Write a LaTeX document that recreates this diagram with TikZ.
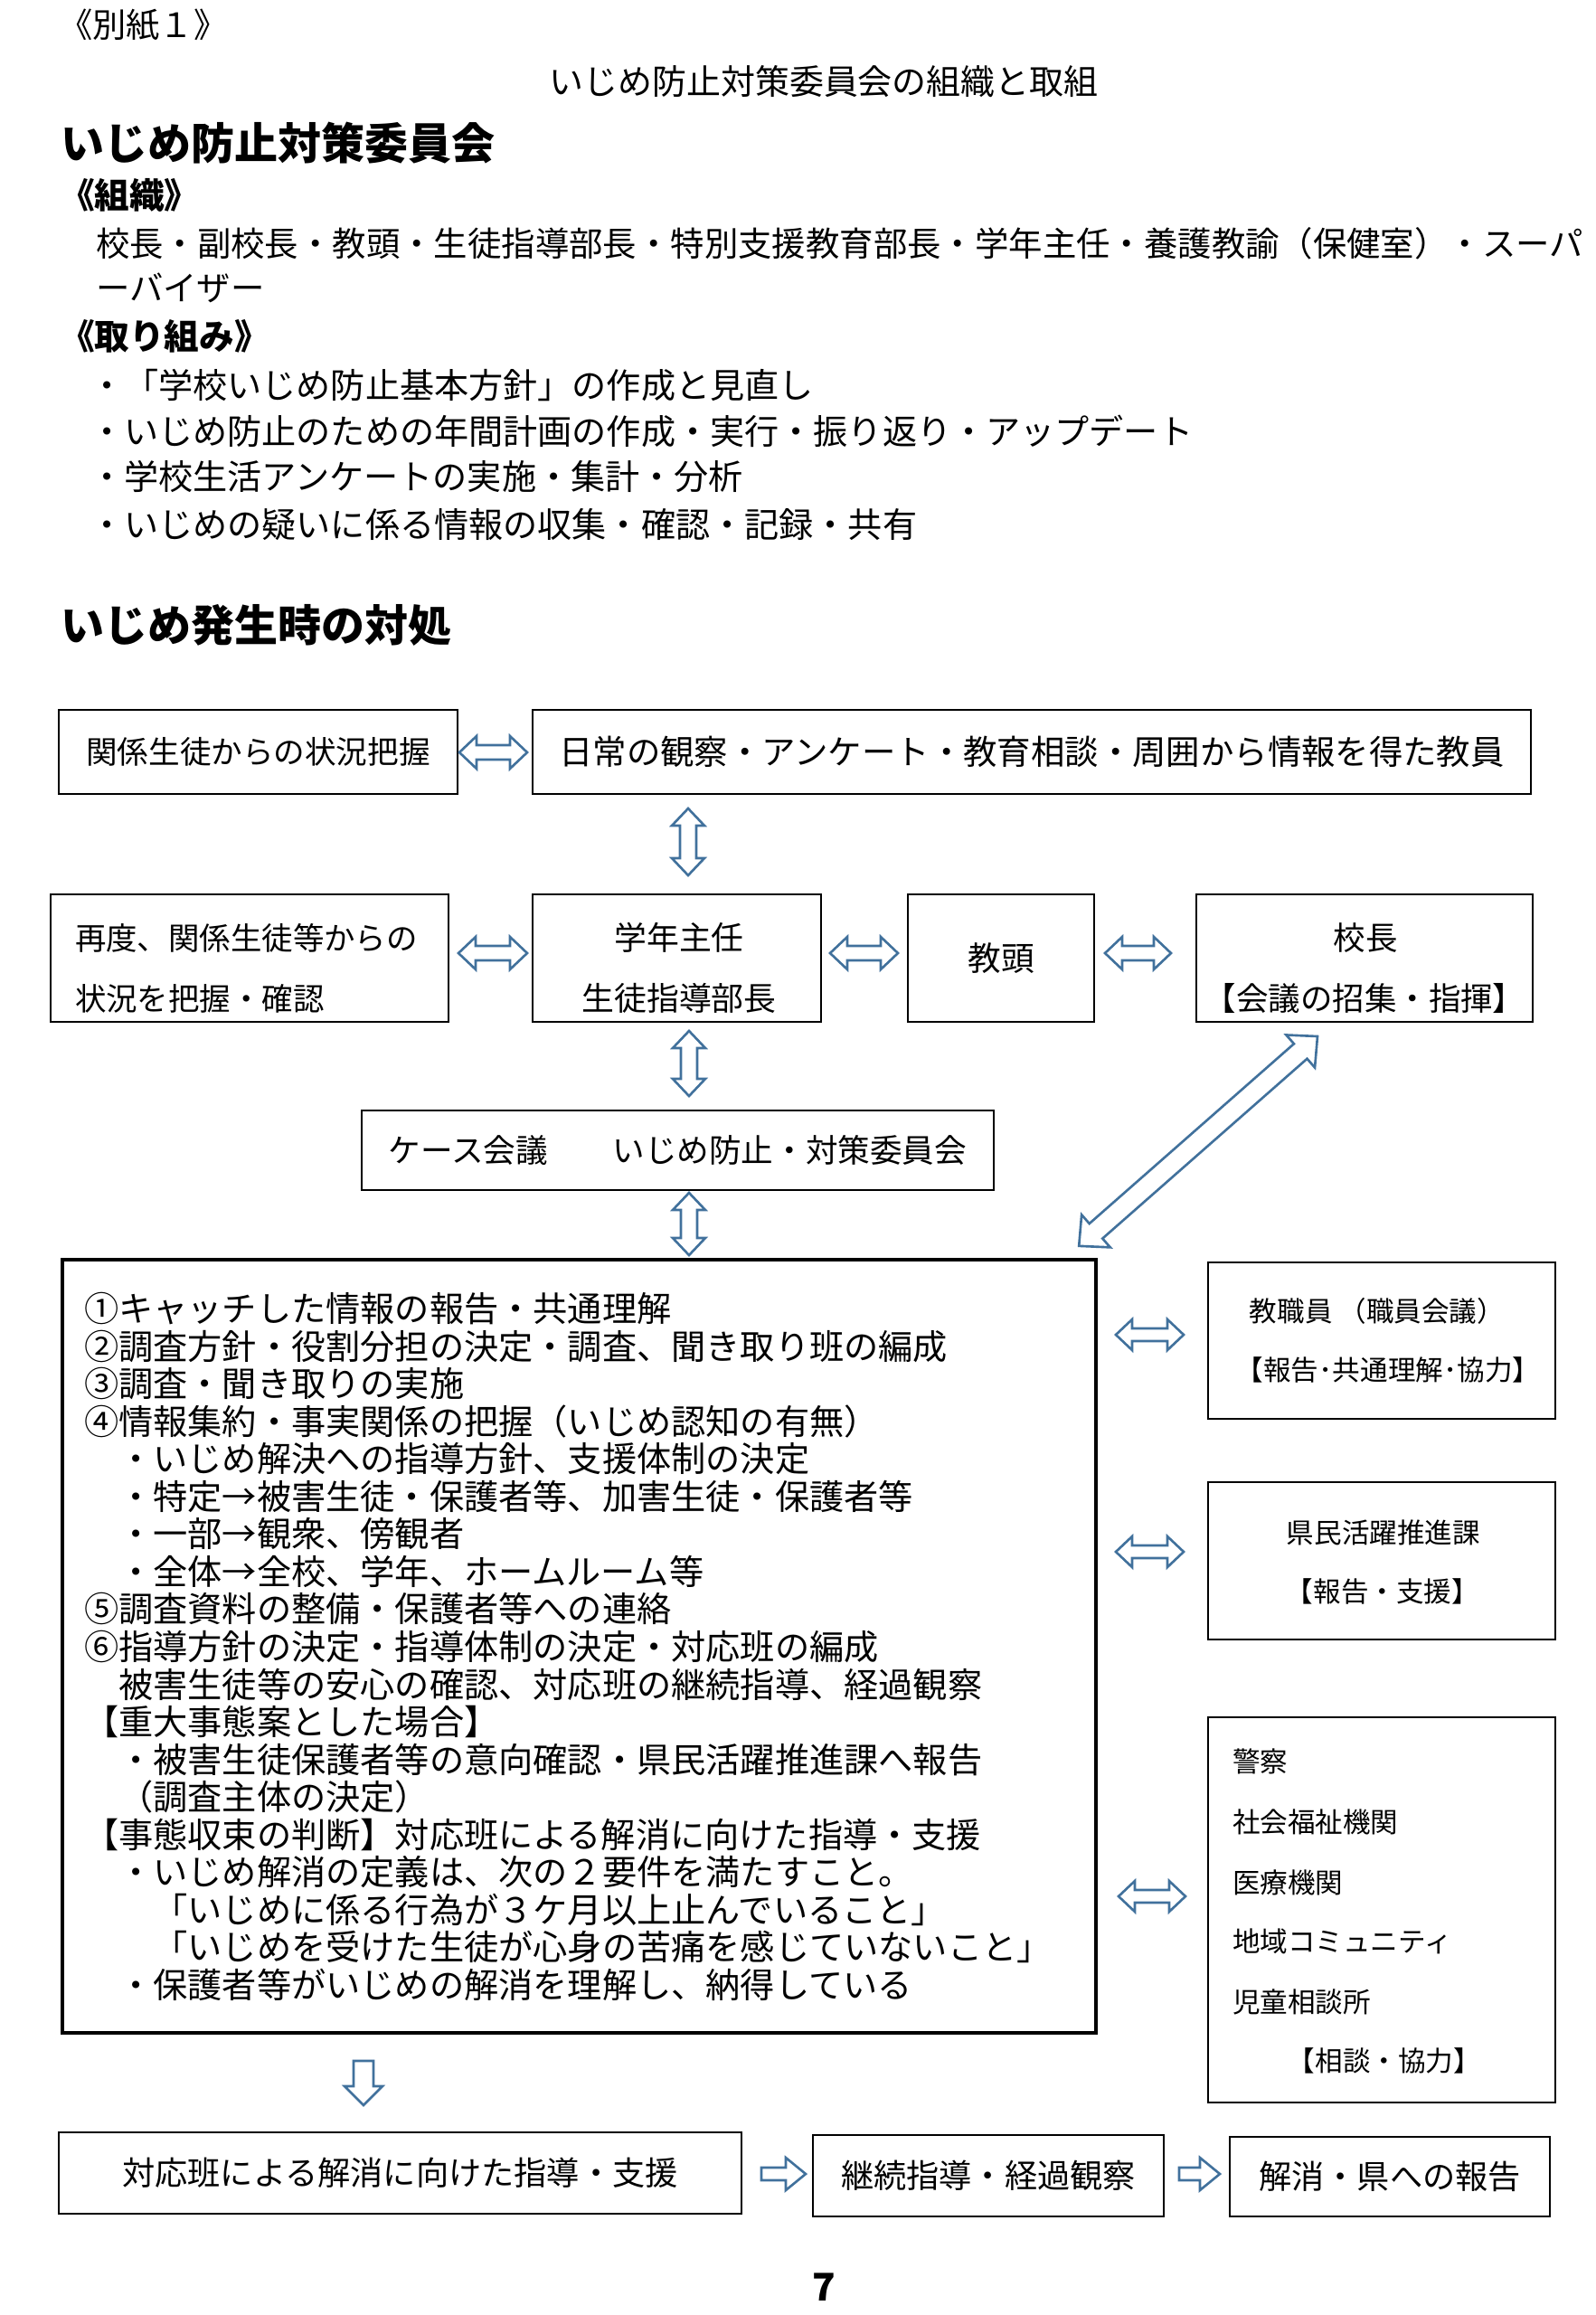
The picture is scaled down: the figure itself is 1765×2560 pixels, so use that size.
\documentclass[tikz,border=0pt]{standalone}
\usepackage{fontspec}
\setmainfont{Noto Sans CJK JP}
\usetikzlibrary{calc}
\definecolor{arrowblue}{RGB}{65,113,156}
\newcommand\fs[1]{\fontsize{#1pt}{#1pt}\selectfont}
% hollow double arrow between two named coordinates; #3 head length, #4 head half width, #5 shaft half width (px)
\newcommand\dblarr[5]{%
  \pgfpointdiff{\pgfpointanchor{#1}{center}}{\pgfpointanchor{#2}{center}}%
  \pgfgetlastxy{\arrdx}{\arrdy}%
  \pgfmathsetmacro\arrlen{veclen(\arrdx,\arrdy)}%
  \pgfmathsetmacro\arrang{atan2(\arrdy,\arrdx)}%
  \pgfmathsetlengthmacro\ahl{#3*0.1mm}%
  \pgfmathsetlengthmacro\ahw{#4*0.1mm}%
  \pgfmathsetlengthmacro\asw{#5*0.1mm}%
  \pgfmathsetlengthmacro\atip{\arrlen pt}%
  \pgfmathsetlengthmacro\aend{\arrlen pt-#3*0.1mm}%
  \begin{scope}[shift={(#1)}, rotate=\arrang]
    \draw[hollow] (0pt,0pt) -- (\ahl,\ahw) -- (\ahl,\asw) -- (\aend,\asw) -- (\aend,\ahw) -- (\atip,0pt)
      -- (\aend,-\ahw) -- (\aend,-\asw) -- (\ahl,-\asw) -- (\ahl,-\ahw) -- cycle;
  \end{scope}}
\newcommand\sglarr[5]{%
  \pgfpointdiff{\pgfpointanchor{#1}{center}}{\pgfpointanchor{#2}{center}}%
  \pgfgetlastxy{\arrdx}{\arrdy}%
  \pgfmathsetmacro\arrlen{veclen(\arrdx,\arrdy)}%
  \pgfmathsetmacro\arrang{atan2(\arrdy,\arrdx)}%
  \pgfmathsetlengthmacro\ahl{#3*0.1mm}%
  \pgfmathsetlengthmacro\ahw{#4*0.1mm}%
  \pgfmathsetlengthmacro\asw{#5*0.1mm}%
  \pgfmathsetlengthmacro\atip{\arrlen pt}%
  \pgfmathsetlengthmacro\aend{\arrlen pt-#3*0.1mm}%
  \begin{scope}[shift={(#1)}, rotate=\arrang]
    \draw[hollow] (0pt,\asw) -- (\aend,\asw) -- (\aend,\ahw) -- (\atip,0pt)
      -- (\aend,-\ahw) -- (\aend,-\asw) -- (0pt,-\asw) -- cycle;
  \end{scope}}
\begin{document}
\begin{tikzpicture}[x=0.1mm,y=-0.1mm,
  box/.style={draw=black, line width=0.8pt, inner sep=0pt, outer sep=0pt, align=center},
  bigbox/.style={draw=black, line width=1pt, inner sep=0pt, outer sep=0pt},
  sidebox/.style={draw=black, line width=0.65pt, inner sep=0pt, outer sep=0pt},
  txt/.style={inner sep=0pt, outer sep=0pt},
  hollow/.style={draw=arrowblue, line width=0.75pt, fill=white, line join=miter},
  bigtext/.style={txt, anchor=base west, font=\fs{10.87}},
  sidetext/.style={txt, font=\fs{8.7}}]
\fill[white] (0,0) rectangle (1765,2560);
\useasboundingbox (0,0) rectangle (1765,2560);

% ---------- header ----------
\node[txt, anchor=base west, font=\fs{10.6}] (bessi) at (65,41) {《別紙１》};
\node[txt, anchor=base, font=\fs{10.8}] (title) at (911,104) {いじめ防止対策委員会の組織と取組};
\node[txt, anchor=base west, font=\bfseries\fs{13.66}] (h1) at (67,176) {いじめ防止対策委員会};
\node[txt, anchor=base west, font=\bfseries\fs{11}] (h1a) at (66,230) {《組織》};
\node[txt, anchor=base west, font=\fs{10.64}] (org1) at (106,283.6) {校長・副校長・教頭・生徒指導部長・特別支援教育部長・学年主任・養護教諭（保健室）・スーパ};
\node[txt, anchor=base west, font=\fs{10.64}] (org2) at (106,332.6) {ーバイザー};
\node[txt, anchor=base west, font=\bfseries\fs{11}] (h1b) at (66,386) {《取り組み》};
\node[txt, anchor=base west, font=\fs{10.85}] (p1) at (99,440.6) {・「学校いじめ防止基本方針」の作成と見直し};
\node[txt, anchor=base west, font=\fs{10.85}] (p2) at (99,491.2) {・いじめ防止のための年間計画の作成・実行・振り返り・アップデート};
\node[txt, anchor=base west, font=\fs{10.85}] (p3) at (99,541.8) {・学校生活アンケートの実施・集計・分析};
\node[txt, anchor=base west, font=\fs{10.85}] (p4) at (99,594) {・いじめの疑いに係る情報の収集・確認・記録・共有};
\node[txt, anchor=base west, font=\bfseries\fs{13.66}] (h2) at (67,709) {いじめ発生時の対処};

% ---------- boxes ----------
\node[box, minimum width=44.1mm, minimum height=9.3mm, font=\fs{9.84}] (b1) at (285.5,831.5) {関係生徒からの状況把握};
\node[box, minimum width=110.4mm, minimum height=9.3mm, font=\fs{10.64}] (b2) at (1141,831.5) {日常の観察・アンケート・教育相談・周囲から情報を得た教員};
\node[box, minimum width=44.0mm, minimum height=14.1mm] (b3) at (276,1059.5) {};
\node[txt, anchor=base west, font=\fs{9.8}] (t3a) at (83,1050) {再度、関係生徒等からの};
\node[txt, anchor=base west, font=\fs{9.8}] (t3b) at (83,1117) {状況を把握・確認};
\node[box, minimum width=31.9mm, minimum height=14.1mm] (b4) at (748.5,1059.5) {};
\node[txt, anchor=base, font=\fs{10.2}] (t4a) at (751,1050.6) {学年主任};
\node[txt, anchor=base, font=\fs{10.2}] (t4b) at (751,1117.6) {生徒指導部長};
\node[box, minimum width=20.6mm, minimum height=14.1mm, font=\fs{10.44}] (b5) at (1107,1059.5) {教頭};
\node[box, minimum width=37.2mm, minimum height=14.1mm] (b6) at (1509,1059.5) {};
\node[txt, anchor=base, font=\fs{10.1}] (t6a) at (1510,1050.6) {校長};
\node[txt, anchor=base, font=\fs{10.1}] (t6b) at (1509,1117.6) {【会議の招集・指揮】};
\node[box, minimum width=69.9mm, minimum height=8.8mm, font=\fs{10.13}] (b7) at (749.5,1272) {ケース会議　　いじめ防止・対策委員会};
\node[bigbox, minimum width=114.3mm, minimum height=85.5mm] (b8) at (640.5,1820.5) {};
\foreach \txt [count=\i] in {
①キャッチした情報の報告・共通理解,
②調査方針・役割分担の決定・調査、聞き取り班の編成,
③調査・聞き取りの実施,
④情報集約・事実関係の把握（いじめ認知の有無）,
　・いじめ解決への指導方針、支援体制の決定,
　・特定→被害生徒・保護者等、加害生徒・保護者等,
　・一部→観衆、傍観者,
　・全体→全校、学年、ホームルーム等,
⑤調査資料の整備・保護者等への連絡,
⑥指導方針の決定・指導体制の決定・対応班の編成,
　被害生徒等の安心の確認、対応班の継続指導、経過観察,
【重大事態案とした場合】,
　・被害生徒保護者等の意向確認・県民活躍推進課へ報告,
　（調査主体の決定）,
【事態収束の判断】対応班による解消に向けた指導・支援,
　・いじめ解消の定義は、次の２要件を満たすこと。,
　　「いじめに係る行為が３ケ月以上止んでいること」,
　　「いじめを受けた生徒が心身の苦痛を感じていないこと」,
　・保護者等がいじめの解消を理解し、納得している}
{\node[bigtext] (L\i) at (93,{1461.5+41.55*(\i-1)}) {\txt};}

\node[sidebox, minimum width=38.4mm, minimum height=17.3mm] (b9) at (1528,1482.5) {};
\node[sidetext, anchor=base] (t9a) at (1523,1461.6) {教職員 （職員会議）};
\node[sidetext, anchor=base] (t9b) at (1535,1526.6) {【報告･共通理解･協力】};
\node[sidebox, minimum width=38.4mm, minimum height=17.4mm] (b10) at (1528,1726) {};
\node[sidetext, anchor=base] (t10a) at (1530,1706.6) {県民活躍推進課};
\node[sidetext, anchor=base] (t10b) at (1529,1771.6) {【報告・支援】};
\node[sidebox, minimum width=38.4mm, minimum height=42.6mm] (b11) at (1528,2112) {};
\node[sidetext, anchor=base west] (t11a) at (1363,1959.6) {警察};
\node[sidetext, anchor=base west] (t11b) at (1363,2026.6) {社会福祉機関};
\node[sidetext, anchor=base west] (t11c) at (1363,2093.6) {医療機関};
\node[sidetext, anchor=base west] (t11d) at (1363,2158.6) {地域コミュニティ};
\node[sidetext, anchor=base west] (t11e) at (1363,2225.6) {児童相談所};
\node[sidetext, anchor=base] (t11f) at (1531,2290.6) {【相談・協力】};

\node[box, minimum width=75.5mm, minimum height=9.0mm, font=\fs{10.3}] (b12) at (442.5,2403) {対応班による解消に向けた指導・支援};
\node[box, minimum width=38.8mm, minimum height=9.0mm, font=\fs{10.3}] (b13) at (1093,2406) {継続指導・経過観察};
\node[box, minimum width=35.4mm, minimum height=8.8mm, font=\fs{10.3}] (b14) at (1537,2407) {解消・県への報告};

\node[txt, anchor=base, font=\bfseries\fs{12}] (pg) at (911,2544) {7};

% ---------- arrows ----------
\coordinate (a1s) at ($(b1.east)+(2,0.5)$);
\coordinate (a1e) at ($(b2.west)+(-6,0.5)$);
\dblarr{a1s}{a1e}{19}{18}{8}
\coordinate (a2s) at ($(b2.south -| b4.north)+(12.5,16)$);
\coordinate (a2e) at ($(b4.north)+(12.5,-21)$);
\dblarr{a2s}{a2e}{19}{18}{9}
\coordinate (a3s) at ($(b3.east)+(11,-5.5)$);
\coordinate (a3e) at ($(b4.west)+(-6,-5.5)$);
\dblarr{a3s}{a3e}{19}{18}{8}
\coordinate (a4s) at ($(b4.east)+(10,-5.5)$);
\coordinate (a4e) at ($(b5.west)+(-11,-5.5)$);
\dblarr{a4s}{a4e}{19}{18}{8}
\coordinate (a5s) at ($(b5.east)+(12,-5.5)$);
\coordinate (a5e) at ($(b6.west)+(-28,-5.5)$);
\dblarr{a5s}{a5e}{19}{18}{8}
\coordinate (a6s) at ($(b4.south)+(13.5,10)$);
\coordinate (a6e) at ($(b7.north)+(12.5,-16)$);
\dblarr{a6s}{a6e}{19}{18}{9}
\coordinate (a7s) at ($(b7.south)+(12.5,3)$);
\coordinate (a7e) at ($(b7.south |- b8.north)+(12.5,-5)$);
\dblarr{a7s}{a7e}{19}{18}{9}
\coordinate (a8s) at ($(b6.south)+(-52,16)$);
\coordinate (a8e) at ($(b8.north east)+(-19,-15)$);
\dblarr{a8s}{a8e}{25}{24}{11}
\coordinate (a9s) at ($(b8.east |- b9.west)+(22,-6.5)$);
\coordinate (a9e) at ($(b9.west)+(-27,-6.5)$);
\dblarr{a9s}{a9e}{18}{17}{7}
\coordinate (a10s) at ($(b8.east |- b10.west)+(22,-10)$);
\coordinate (a10e) at ($(b10.west)+(-27,-10)$);
\dblarr{a10s}{a10e}{18}{17}{7}
\coordinate (a11s) at ($(b8.east |- b11.west)+(25,-15)$);
\coordinate (a11e) at ($(b11.west)+(-25,-15)$);
\dblarr{a11s}{a11e}{18}{17}{7}
\coordinate (a12s) at ($(b8.south -| b12.north)+(-40.5,31)$);
\coordinate (a12e) at ($(b12.north)+(-40.5,-30)$);
\sglarr{a12s}{a12e}{21}{21}{11}
\coordinate (a13s) at ($(b12.east)+(22,1)$);
\coordinate (a13e) at ($(b13.west)+(-8,-2)$);
\sglarr{a13s}{a13e}{22}{18}{7}
\coordinate (a14s) at ($(b13.east)+(17,-2)$);
\coordinate (a14e) at ($(b14.west)+(-11,-3)$);
\sglarr{a14s}{a14e}{22}{18}{7}
\end{tikzpicture}
\end{document}
